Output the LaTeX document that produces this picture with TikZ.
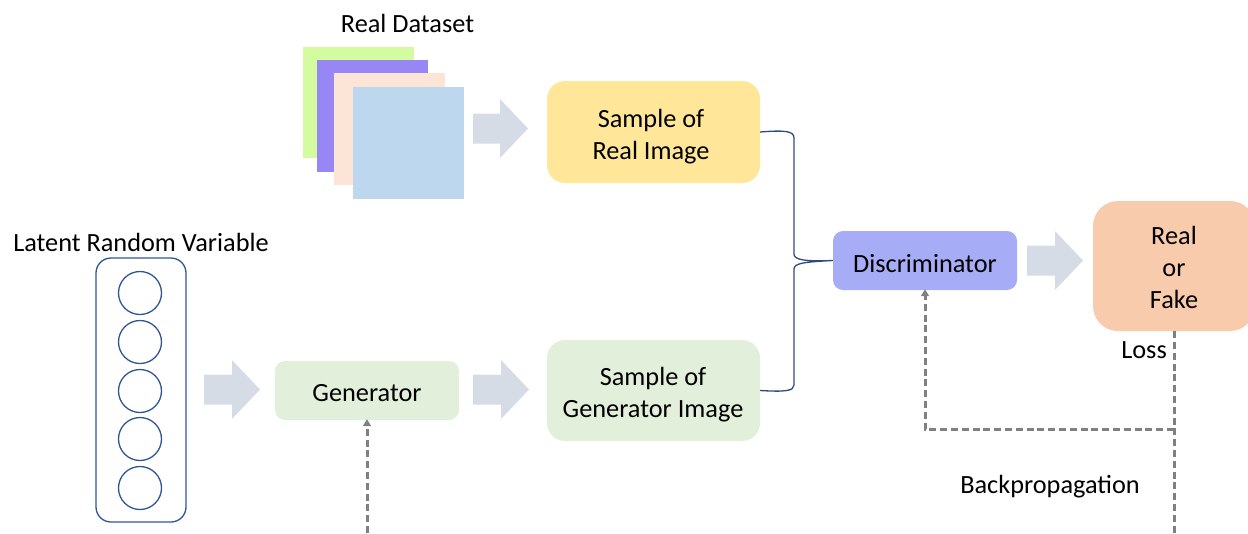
\documentclass[tikz,border=0pt]{standalone}
\usepackage{fontspec}
\setmainfont{Carlito}
\usetikzlibrary{arrows.meta}
\definecolor{cLime}{RGB}{213,251,160}
\definecolor{cPurple}{RGB}{151,135,245}
\definecolor{cPeach}{RGB}{252,228,214}
\definecolor{cSky}{RGB}{189,215,238}
\definecolor{cArrow}{RGB}{214,220,229}
\definecolor{cYellow}{RGB}{255,230,153}
\definecolor{cGreen}{RGB}{226,239,218}
\definecolor{cDisc}{RGB}{166,172,245}
\definecolor{cOrange}{RGB}{248,203,173}
\definecolor{cBrace}{RGB}{46,74,127}
\definecolor{cLatent}{RGB}{47,85,151}
\definecolor{cDash}{RGB}{128,128,128}
\newcommand\lbl{\fontsize{26.3}{32}\selectfont}
\newcommand\blockarrow[3]{%
  \fill[cArrow] (#1,#3-15) -- (#2-28,#3-15) -- (#2-28,#3-29.5) -- (#2,#3)
    -- (#2-28,#3+29.5) -- (#2-28,#3+15) -- (#1,#3+15) -- cycle;}
\begin{document}
\begin{tikzpicture}[x=1pt,y=-1pt,
  box/.style={rounded corners=#1, inner sep=0pt},
  txt/.style={inner sep=0pt, font=\lbl},
  dashline/.style={draw=cDash, line width=3pt, dash pattern=on 7pt off 3.8pt},
  tip/.style={-{Triangle[length=7pt,width=8pt]}, shorten >=-1pt},
  circ/.style={circle, draw=cLatent, line width=1.3pt, minimum size=43pt, inner sep=0pt}]
\useasboundingbox (0,0) rectangle (1248,533);
% dataset stack
\fill[cLime] (303,47) rectangle (414,158);
\fill[cPurple] (317,60) rectangle (428,172);
\fill[cPeach] (334,73) rectangle (445,185);
\fill[cSky] (353,87) rectangle (464,199);
\node[txt, anchor=base] (ds) at (407.5,32) {Real Dataset};
% block arrows
\blockarrow{473}{528}{128.5}
\blockarrow{204}{260}{389.5}
\blockarrow{473}{529}{389.5}
\blockarrow{1027}{1083}{260.5}
% boxes
\node[box=18pt, fill=cYellow, minimum width=213pt, minimum height=102pt] (real) at (653.5,132) {};
\node[txt, align=center] (realt) at (651,137) {Sample of\\Real Image};
\node[box=18pt, fill=cGreen, minimum width=213pt, minimum height=101pt] (gsample) at (653.5,390.5) {};
\node[txt, align=center] (gsamplet) at (653,394.5) {Sample of\\Generator Image};
\node[box=10pt, fill=cGreen, minimum width=184pt, minimum height=59pt] (gen) at (367,390.5) {};
\node[txt] (gent) at (367,393.5) {Generator};
\node[box=10pt, fill=cDisc, minimum width=184pt, minimum height=59pt] (disc) at (925,260.5) {};
\node[txt] (disct) at (925,263.5) {Discriminator};
\node[box=25pt, fill=cOrange, minimum width=162pt, minimum height=130pt] (rf) at (1174,266) {};
\node[txt, align=center] (rft) at (1174,267) {Real\\or\\Fake};
% latent variable
\node[txt, anchor=base] (lrv) at (141,251) {Latent Random Variable};
\node[draw=cLatent, line width=1.3pt, rounded corners=15pt, minimum width=90pt, minimum height=264pt, inner sep=0pt] (lat) at (141,390) {};
\foreach \i/\y in {1/293,2/342,3/391,4/439,5/488}
  \node[circ] (c\i) at (140,\y) {};
% brace
\draw[cBrace, line width=1.3pt]
  (real.east) .. controls (785,130) and (794,131) .. (794,138) -- (794,254)
  .. controls (794,260) and (805,261.5) .. (disc.west)
  .. controls (805,262) and (794,263) .. (794,269) -- (794,385)
  .. controls (794,391) and (785,392) .. (gsample.east);
% dashed feedback
\coordinate (genbot) at (367,533);
\coordinate (lossbot) at (1174,533);
\coordinate (j) at (1174,429);
\coordinate (k) at (925,429);
\draw[dashline, tip] (genbot) -- (gen.south);
\draw[dashline] (rf.south) -- (lossbot);
\draw[dashline, tip] (j) -- (k) -- (disc.south);
\node[txt, anchor=base east] (loss) at (1167,358) {Loss};
\node[txt, anchor=base] (bp) at (1050,493) {Backpropagation};
\end{tikzpicture}
\end{document}
